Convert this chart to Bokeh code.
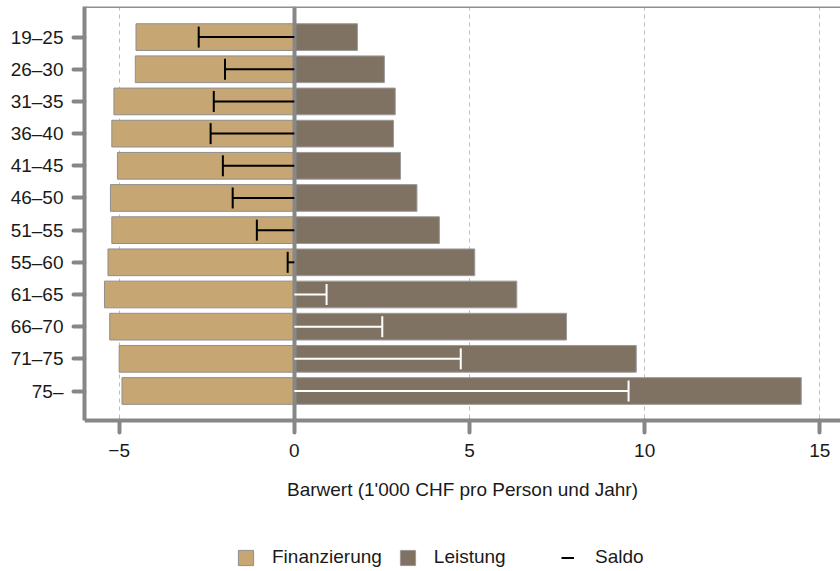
import numpy as np
from bokeh.plotting import figure
from bokeh.models import (ColumnDataSource, Range1d, Span, Legend, LegendItem,
                          FixedTicker, LinearAxis)
from bokeh.embed import file_html
from bokeh.resources import INLINE

# ---- data (values in 1'000 CHF per person and year) ----
ages = ["19–25", "26–30", "31–35", "36–40", "41–45", "46–50",
        "51–55", "55–60", "61–65", "66–70", "71–75", "75–"]
finanzierung = [-4.52, -4.54, -5.15, -5.21, -5.05, -5.25,
                -5.21, -5.32, -5.42, -5.27, -5.00, -4.92]
leistung = [1.80, 2.57, 2.88, 2.83, 3.03, 3.50,
            4.14, 5.15, 6.35, 7.77, 9.76, 14.47]
saldo = [-2.73, -1.98, -2.30, -2.39, -2.04, -1.76,
         -1.07, -0.19, 0.92, 2.51, 4.75, 9.54]
x_ticks = [-5, 0, 5, 10, 15]
x_tick_labels = {-5: "−5", 0: "0", 5: "5", 10: "10", 15: "15"}

FONT = "Liberation Sans"
AXIS_GREY = "#878787"
TEXT = "#1a1a1a"
C_FIN = "#C6A672"
C_LEI = "#807262"

pos = list(range(len(ages)))          # row index, top row = 0
src = ColumnDataSource(dict(
    pos=pos,
    fin=finanzierung,
    lei=leistung,
    saldo=saldo,
    zero=[0.0] * len(ages),
    scol=["black" if s < 0 else "white" for s in saldo],
))

# panel extent in row units (rows are drawn top -> bottom)
Y_TOP = -0.951
Y_AXIS = len(ages) - 0.08            # where the x axis sits
Y_BOTTOM = 16.61                      # frame continues below to hold the legend

p = figure(width=840, height=571,
           x_range=Range1d(-5.99, 15.59),
           y_range=Range1d(start=Y_BOTTOM, end=Y_TOP),
           output_backend="svg", toolbar_location=None,
           min_border_left=84, min_border_right=0, min_border_top=6,
           min_border_bottom=0)
p.outline_line_color = None
p.background_fill_color = "white"
p.border_fill_color = "white"
p.grid.visible = False

r_fin = p.hbar(y="pos", left="fin", right="zero", height=0.83, source=src,
               fill_color=C_FIN, line_color="#8f8f8f", line_width=1)
r_lei = p.hbar(y="pos", left="zero", right="lei", height=0.83, source=src,
               fill_color=C_LEI, line_color="#9a9a9a", line_width=1)

r_sal = p.segment(x0="zero", y0="pos", x1="saldo", y1="pos", source=src,
                  line_color="scol", line_width=2, level="overlay")
r_cap = p.scatter(x="saldo", y="pos", source=src, marker="dash", angle=np.pi / 2,
                  size=21, line_color="scol", line_width=2, level="overlay")

# top border of the panel
p.add_layout(Span(location=Y_TOP, dimension="width", line_color="#8f8f8f", line_width=3))

# dashed vertical grid lines (bounded to the panel) and the zero line
for xv in x_ticks:
    g = LinearAxis(fixed_location=xv, ticker=FixedTicker(ticks=[]),
                   bounds=(Y_TOP, Y_AXIS), major_label_text_font_size="0px",
                   major_tick_line_color=None, minor_tick_line_color=None,
                   axis_line_color="#bdbdbd", axis_line_width=1,
                   axis_line_dash="4 4", level="underlay")
    p.add_layout(g, "left")
zero_line = LinearAxis(fixed_location=0, ticker=FixedTicker(ticks=[]),
                       bounds=(Y_TOP, Y_AXIS), major_label_text_font_size="0px",
                       major_tick_line_color=None, minor_tick_line_color=None,
                       axis_line_color=AXIS_GREY, axis_line_width=4)
p.add_layout(zero_line, "left")

# axes
xa = p.xaxis[0]
ya = p.yaxis[0]
for ax in (xa, ya):
    ax.axis_line_color = AXIS_GREY
    ax.axis_line_width = 4
    ax.major_tick_line_color = AXIS_GREY
    ax.major_tick_line_width = 4
    ax.major_tick_line_cap = "round"
    ax.major_tick_in = 0
    ax.minor_tick_line_color = None
    ax.major_label_text_font = FONT
    ax.major_label_text_font_size = "19px"
    ax.major_label_text_color = TEXT

xa.fixed_location = Y_AXIS
xa.ticker = FixedTicker(ticks=x_ticks)
xa.major_label_overrides = x_tick_labels
xa.major_tick_out = 12
xa.major_label_standoff = 11
xa.axis_label = "Barwert (1'000 CHF pro Person und Jahr)"
xa.axis_label_text_font = FONT
xa.axis_label_text_font_size = "19px"
xa.axis_label_text_font_style = "normal"
xa.axis_label_text_color = TEXT
xa.axis_label_standoff = 19

ya.ticker = FixedTicker(ticks=pos)
ya.major_label_overrides = {i: a for i, a in zip(pos, ages)}
ya.bounds = (Y_TOP, Y_AXIS)
ya.major_tick_out = 11
ya.major_label_standoff = 10

common = dict(orientation="horizontal", padding=0, margin=0,
              border_line_color=None, background_fill_alpha=0,
              label_text_font=FONT, label_text_font_size="19px",
              label_text_color=TEXT, glyph_height=19)
leg1 = Legend(items=[LegendItem(label="Finanzierung", renderers=[r_fin]),
                     LegendItem(label="Leistung", renderers=[r_lei])],
              location=(152, 3), glyph_width=19, label_standoff=17,
              spacing=16, **common)
leg2 = Legend(items=[LegendItem(label="Saldo", renderers=[r_sal])],
              location=(477, 3), glyph_width=13, label_standoff=21, **common)
p.add_layout(leg1, "center")
p.add_layout(leg2, "center")

open("out.html", "w").write(file_html(p, INLINE))
